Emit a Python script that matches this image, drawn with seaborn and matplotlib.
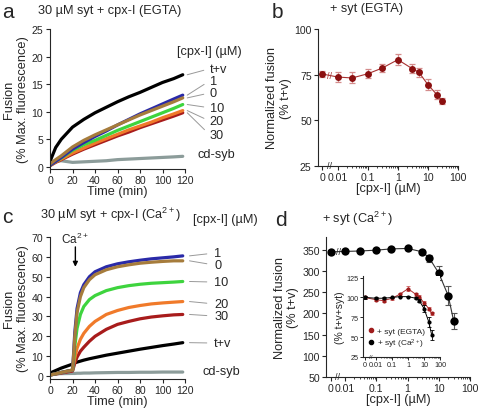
import numpy as np
import seaborn as sns
import matplotlib.pyplot as plt
from matplotlib.lines import Line2D
from matplotlib.ticker import FixedLocator, NullFormatter

sns.set_style("ticks")
plt.rcParams['font.family'] = ['Liberation Sans', 'DejaVu Sans']
plt.rcParams['mathtext.default'] = 'regular'
plt.rcParams['axes.linewidth'] = 0.8

# ---- panel a : 30 uM syt + cpx-I (EGTA) ----
time_a = [0, 5, 10, 20, 30, 40, 50, 60, 70, 80, 90, 100, 110, 118]
a_tv = [1.0, 3.5, 5.0, 7.2, 8.6, 9.8, 10.8, 11.8, 12.7, 13.5, 14.4, 15.3, 16.0, 16.7]
a_c1 = [0.3, 1.0, 1.7, 3.2, 4.4, 5.5, 6.5, 7.6, 8.6, 9.6, 10.5, 11.4, 12.3, 13.0]
a_c0 = [0.5, 1.3, 2.0, 3.6, 4.8, 5.8, 6.7, 7.6, 8.5, 9.4, 10.2, 11.0, 11.8, 12.5]
a_c10 = [0.3, 1.0, 1.6, 3.0, 4.0, 4.8, 5.7, 6.6, 7.4, 8.2, 9.0, 9.8, 10.6, 11.3]
a_c20 = [0.3, 0.9, 1.4, 2.5, 3.4, 4.3, 5.1, 5.9, 6.7, 7.4, 8.1, 8.9, 9.6, 10.2]
a_c30 = [0.2, 0.8, 1.3, 2.3, 3.2, 4.0, 4.8, 5.6, 6.3, 7.1, 7.8, 8.5, 9.2, 9.8]
a_cdsyb = [1.0, 1.0, 1.1, 0.8, 0.9, 1.0, 1.1, 1.3, 1.4, 1.5, 1.6, 1.7, 1.8, 1.9]
a_label_y = {'t+v': 17.8, '1': 15.6, '0': 13.4, '10': 10.7, '20': 8.3, '30': 5.8}

# ---- panel c : 30 uM syt + cpx-I (Ca2+) ----
time_c = [0, 10, 20, 21, 22, 24, 27, 30, 35, 40, 50, 60, 70, 80, 90, 100, 110, 118]
c_tv = [1.5, 4.0, 6.0, 6.3, 6.6, 7.0, 7.5, 8.0, 8.7, 9.3, 10.5, 11.5, 12.5, 13.5, 14.4, 15.3, 16.1, 16.8]
c_c1 = [0.5, 1.8, 3.0, 12, 22, 34, 42, 46, 50, 52.5, 55, 56.5, 57.5, 58.3, 59, 59.5, 60, 60.5]
c_c0 = [0.5, 1.8, 3.0, 11, 20, 32, 40, 44.5, 48.5, 51, 53.5, 55, 56, 56.8, 57.3, 57.7, 58, 58]
c_c10 = [0.5, 1.8, 3.0, 8, 15, 24, 31, 35, 38.5, 40.5, 43, 44.5, 45.5, 46.2, 46.7, 47, 47.3, 47.6]
c_c20 = [0.5, 1.8, 3.0, 6, 9, 14, 18.5, 21.5, 25, 27.5, 31, 33, 34.5, 35.5, 36.3, 36.8, 37.2, 37.5]
c_c30 = [0.5, 1.5, 2.5, 4.5, 6.5, 9.5, 12.5, 14.5, 17.5, 20, 23.5, 26, 27.5, 28.8, 29.7, 30.3, 30.8, 31]
c_cdsyb = [1.0, 1.2, 1.3, 1.3, 1.3, 1.4, 1.4, 1.5, 1.5, 1.6, 1.7, 1.8, 1.8, 1.9, 1.9, 2.0, 2.0, 2.0]
c_label_y = {'1': 61.9, '0': 55.9, '10': 47.3, '20': 36.3, '30': 30.2, 't+v': 16.6}

# ---- panels b, d : dose response ----
cpx = [0, 0.01, 0.03, 0.1, 0.3, 1, 3, 5, 10, 20, 30]
b_mean = [75.4, 73.7, 73.2, 75.5, 78.6, 83.2, 78.3, 76.3, 69.5, 64.0, 60.5]
b_err = [1.5, 2.5, 3.0, 2.5, 2.0, 3.0, 2.5, 2.5, 3.0, 2.5, 1.5]
d_mean = [345, 346, 347, 349, 352, 353, 345, 330, 295, 242, 182]
d_err = [4, 3, 3, 3, 3, 3, 4, 8, 17, 22, 18]
ins_egta = [100, 97, 96, 99, 104, 111, 104, 101, 93, 86, 80]
ins_egta_err = [2, 2, 2, 2, 2, 3, 2, 2, 2, 2, 1.5]
ins_ca = [100, 99, 99, 100, 101, 101, 99, 96, 86, 69, 53]
ins_ca_err = [1.5, 1, 1, 1, 1, 1, 1.5, 2, 4, 6, 6]

col = {'t+v': 'black', '1': '#2a2aa8', '0': '#a67c3c', '10': '#3ed43e',
       '20': '#f07a2a', '30': '#a81c1c', 'cd-syb': '#8c9c9a'}

W, H = 479, 410
fig = plt.figure(figsize=(W / 100, H / 100), dpi=100)


def box(l, t, r, b):
    return [l / W, 1 - b / H, (r - l) / W, (b - t) / H]


def ftext(px, py, s, **kw):
    fig.text(px / W, 1 - py / H, s, **kw)


tick_fs = 7.6
lab_fs = 9.2

# ---------- a ----------
ax = fig.add_axes(box(49.5, 30, 185, 170))
traces_a = [('cd-syb', a_cdsyb), ('t+v', a_tv), ('30', a_c30), ('20', a_c20),
            ('10', a_c10), ('1', a_c1), ('0', a_c0)]
for name, vals in traces_a:
    sns.lineplot(x=time_a, y=vals, ax=ax, color=col[name], lw=2.3)
ax.set_xlim(-0.5, 120)
ax.set_ylim(-0.4, 25)
ax.set_xticks(range(0, 121, 20))
ax.set_yticks(range(0, 26, 5))
ax.set_xlabel('Time (min)', fontsize=lab_fs, labelpad=0)
ax.set_ylabel('Fusion\n(% Max. fluorescence)', fontsize=lab_fs, labelpad=2)
ax.tick_params(labelsize=tick_fs, length=3, width=0.8, pad=1.5)
for name, vals in traces_a:
    if name == 'cd-syb':
        continue
    ax.annotate(name, xy=(122, vals[-1]), xytext=(142, a_label_y[name]),
                fontsize=lab_fs, va='center', annotation_clip=False,
                arrowprops=dict(arrowstyle='-', color='#999999', lw=0.7,
                                relpos=(0, 0.5), shrinkA=2, shrinkB=0))
ax.text(131, 2.3, 'cd-syb', fontsize=lab_fs, va='center', clip_on=False)
ax.text(113, 21, '[cpx-I] (\u00b5M)', fontsize=lab_fs, va='center', clip_on=False)
sns.despine(ax=ax)

# ---------- c ----------
ax = fig.add_axes(box(49.5, 238, 185, 380))
traces_c = [('cd-syb', c_cdsyb), ('t+v', c_tv), ('30', c_c30), ('20', c_c20),
            ('10', c_c10), ('1', c_c1), ('0', c_c0)]
for name, vals in traces_c:
    sns.lineplot(x=time_c, y=vals, ax=ax, color=col[name], lw=2.3)
ax.set_xlim(-0.5, 120)
ax.set_ylim(-1.5, 70)
ax.set_xticks(range(0, 121, 20))
ax.set_yticks(range(0, 71, 10))
ax.set_xlabel('Time (min)', fontsize=lab_fs, labelpad=0)
ax.set_ylabel('Fusion\n(% Max. fluorescence)', fontsize=lab_fs, labelpad=2)
ax.tick_params(labelsize=tick_fs, length=3, width=0.8, pad=1.5)
for name, vals in traces_c:
    if name == 'cd-syb':
        continue
    ax.annotate(name, xy=(124, vals[-1]), xytext=(146, c_label_y[name]),
                fontsize=lab_fs, va='center', annotation_clip=False,
                arrowprops=dict(arrowstyle='-', color='#999999', lw=0.7,
                                relpos=(0, 0.5), shrinkA=3, shrinkB=0))
ax.text(136, 2.5, 'cd-syb', fontsize=lab_fs, va='center', clip_on=False)
ax.text(127, 79, '[cpx-I] (\u00b5M)', fontsize=lab_fs, va='center', clip_on=False)
ax.annotate('', xy=(22.5, 55), xytext=(22.5, 65),
            arrowprops=dict(arrowstyle='-|>', color='black', lw=1.0,
                            mutation_scale=7, shrinkA=0, shrinkB=0))
ax.text(22.5, 69.5, 'Ca$^{2+}$', fontsize=8.5, ha='center', va='center', clip_on=False)
sns.despine(ax=ax)

minor_x = [m * 10.0 ** e for e in range(-2, 2) for m in range(2, 10)]


def dose_axis(ax, x0, xmin, fs, brk_x, ybot):
    ax.set_xscale('log')
    ax.set_xlim(xmin, 100)
    ax.xaxis.set_major_locator(FixedLocator([x0, 0.01, 0.1, 1, 10, 100]))
    ax.set_xticklabels(['0', '0.01', '0.1', '1', '10', '100'])
    ax.xaxis.set_minor_locator(FixedLocator(minor_x))
    ax.xaxis.set_minor_formatter(NullFormatter())
    ax.tick_params(which='minor', length=1.5, width=0.6)
    ax.text(brk_x, ybot, '//', fontsize=fs, ha='center', va='center', clip_on=False)
    sns.despine(ax=ax)


# ---------- b ----------
ax = fig.add_axes(box(318, 30, 458, 167))
xb = [0.003 if c == 0 else c for c in cpx]
ax.errorbar(xb, b_mean, yerr=b_err, fmt='none', ecolor='#d48c8c', elinewidth=0.9,
            capsize=2.2, capthick=0.9)
sns.lineplot(x=xb, y=b_mean, ax=ax, color='#a83232', lw=0.8, marker='o',
             markersize=5, markerfacecolor='#8b1010', markeredgewidth=0)
ax.set_ylim(25, 100)
ax.set_yticks([25, 50, 75, 100])
ax.tick_params(labelsize=tick_fs, length=3, width=0.8, pad=1.5)
dose_axis(ax, 0.003, 0.0022, 6.5, 0.0052, 25)
ax.text(0.0055, 74.6, '//', fontsize=6.5, ha='center', va='center', color='#a83232')
ax.set_xlabel('[cpx-I] (\u00b5M)', fontsize=lab_fs, labelpad=0)
ax.set_ylabel('Normalized fusion\n(% t+v)', fontsize=lab_fs, labelpad=2)

# ---------- d ----------
ax = fig.add_axes(box(326, 238, 470, 378))
xd = [0.0035 if c == 0 else c for c in cpx]
ax.errorbar(xd, d_mean, yerr=d_err, fmt='none', ecolor='#555555', elinewidth=0.8,
            capsize=2.5, capthick=0.8)
sns.lineplot(x=xd, y=d_mean, ax=ax, color='#333333', lw=0.8, marker='o',
             markersize=6, markerfacecolor='black', markeredgewidth=0)
ax.set_ylim(50, 380)
ax.set_yticks(range(50, 351, 50))
ax.tick_params(labelsize=tick_fs, length=3, width=0.8, pad=1.5)
dose_axis(ax, 0.0035, 0.00245, 6.5, 0.0058, 50)
ax.text(0.006, 346, '//', fontsize=6.5, ha='center', va='center')
ax.set_xlabel('[cpx-I] (\u00b5M)', fontsize=lab_fs, labelpad=0)
ax.set_ylabel('Normalized fusion\n(% t+v)', fontsize=lab_fs, labelpad=2)

# ---------- d inset ----------
ax = fig.add_axes(box(363, 277, 440, 358))
xi = [0.002 if c == 0 else c for c in cpx]
ax.errorbar(xi, ins_egta, yerr=ins_egta_err, fmt='none', ecolor='#d06060',
            elinewidth=0.6, capsize=1.2, capthick=0.6)
sns.lineplot(x=xi, y=ins_egta, ax=ax, color='#b03030', lw=0.7, marker='o',
             markersize=3, markerfacecolor='#a01c1c', markeredgewidth=0)
ax.errorbar(xi, ins_ca, yerr=ins_ca_err, fmt='none', ecolor='black',
            elinewidth=0.6, capsize=1.2, capthick=0.6)
sns.lineplot(x=xi, y=ins_ca, ax=ax, color='black', lw=0.7, marker='o',
             markersize=3, markerfacecolor='black', markeredgewidth=0)
ax.set_ylim(25, 127)
ax.set_yticks([25, 50, 75, 100, 125])
ax.tick_params(labelsize=5.2, length=2, width=0.7, pad=1)
dose_axis(ax, 0.002, 0.0015, 4.5, 0.0045, 25)
ax.tick_params(which='minor', length=1, width=0.5)
ax.set_ylabel('(% t+v+syt)', fontsize=7.5, labelpad=1)
handles = [Line2D([], [], ls='', marker='o', markersize=3, color='#a01c1c'),
           Line2D([], [], ls='', marker='o', markersize=3, color='black')]
ax.legend(handles, ['+ syt (EGTA)', '+ syt (Ca$^{2+}$)'], loc='lower left',
          bbox_to_anchor=(0.0, 0.02), fontsize=6, frameon=False,
          handlelength=0.6, handletextpad=0.4, labelspacing=0.15, borderpad=0.2)

# ---------- titles and panel letters ----------
ftext(2, 12, 'a', fontsize=15, va='center')
ftext(38, 11, '30 \u00b5M syt + cpx-I (EGTA)', fontsize=lab_fs, va='center')
ftext(272, 13, 'b', fontsize=15, va='center')
ftext(330, 9, '+ syt (EGTA)', fontsize=lab_fs, va='center')
ftext(2, 218, 'c', fontsize=15, va='center')
ftext(40, 215, '30 \u00b5M syt + cpx-I (Ca$^{2+}$)', fontsize=lab_fs, va='center')
ftext(275, 221, 'd', fontsize=15, va='center')
ftext(322, 219, '+ syt (Ca$^{2+}$)', fontsize=lab_fs, va='center')

fig.savefig('out.png', dpi=100)
